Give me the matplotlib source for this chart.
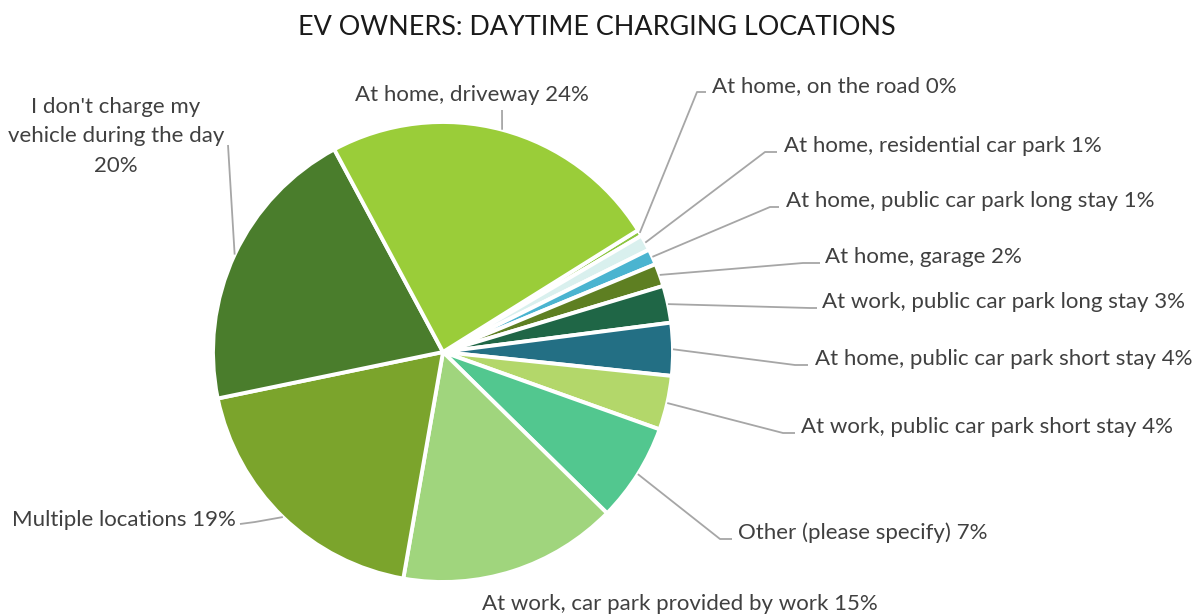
import matplotlib
matplotlib.use('Agg')
import matplotlib.pyplot as plt
import numpy as np

W, H = 1198, 614

# slices in drawing order (clockwise)
names = ['At home, on the road', 'At home, residential car park',
         'At home, public car park long stay', 'At home, garage',
         'At work, public car park long stay', 'At home, public car park short stay',
         'At work, public car park short stay', 'Other (please specify)',
         'At work, car park provided by work', 'Multiple locations',
         "I don't charge my\nvehicle during the day\n", 'At home, driveway']
shares = [0.45, 1.1, 1.1, 1.6, 2.6, 3.7, 3.8, 6.9, 15.4, 19.0, 20.4, 23.95]
colors = ['#8cc63f', '#d9f0ee', '#4bb4d0', '#5e7f22', '#1f6646', '#236f84',
          '#b3d76a', '#52c78f', '#a0d57d', '#7ba42c', '#4a7d2c', '#9acd39']

# label placement in image pixels: (x, baseline y of last line, ha), leader elbow points
label_pos = [(712, 92, 'left'), (784, 152, 'left'), (786, 207, 'left'),
             (825, 263, 'left'), (822, 308, 'left'), (815, 365, 'left'),
             (801, 433, 'left'), (738, 539, 'left'), (680, 610, 'center'),
             (236, 526, 'right'), (116, 172, 'center'), (472, 101, 'center')]
leaders = [[(697, 92), (706, 92)], [(765, 152), (777, 152)], [(770, 207), (779, 207)],
           [(803, 263), (820, 263)], [(810, 308), (817, 308)], [(795, 365), (808, 365)],
           [(783, 433), (795, 433)], [(720, 539), (732, 539)], None,
           [(255, 522), (240, 524)], [(228, 145)], [(502, 110)]]

cx, cy, r = 443, 352, 230

fig = plt.figure(figsize=(W / 100, H / 100), dpi=100)
ax = fig.add_axes([0, 0, 1, 1])

wedges, _ = ax.pie(shares, colors=colors, startangle=32, counterclock=False,
                   center=(cx, H - cy), radius=r,
                   wedgeprops=dict(edgecolor='white', linewidth=2.8))
ax.set_xlim(0, W)
ax.set_ylim(0, H)
ax.set_aspect('equal')
ax.axis('off')

txt_color = '#404040'
font = 'Lato'
for i, w in enumerate(wedges):
    x, y, ha = label_pos[i]
    pct = '%d%%' % round(shares[i])
    if '\n' in names[i]:
        s = names[i] + pct
    else:
        s = names[i] + ' ' + pct
    ax.text(x, H - y, s, ha=ha, va='baseline', fontsize=16, family=font,
            color=txt_color, linespacing=1.6, multialignment='center')

    if leaders[i] is None:
        continue
    mid = np.radians((w.theta1 + w.theta2) / 2)
    pts = [(cx + r * np.cos(mid), H - cy + r * np.sin(mid))]
    pts += [(px, H - py) for px, py in leaders[i]]
    xs, ys = zip(*pts)
    ax.plot(xs, ys, color='#a6a6a6', lw=1.3, solid_capstyle='butt')

ax.text(W / 2 - 2, H - 35, 'EV OWNERS: DAYTIME CHARGING LOCATIONS', ha='center',
        va='baseline', fontsize=19.4, family=font, color='#1a1a1a')

fig.savefig('out.png', dpi=100)
